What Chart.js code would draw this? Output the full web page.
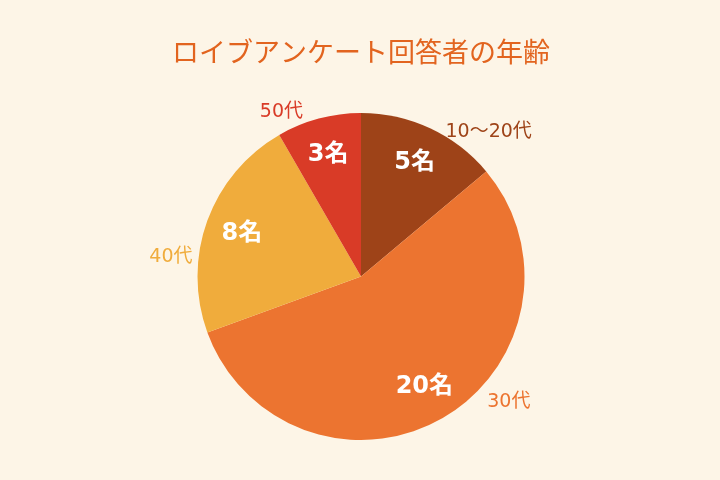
<!DOCTYPE html>
<html>
<head>
<meta charset="utf-8">
<script src="https://cdn.jsdelivr.net/npm/chart.js@4"></script>
<style>
  html, body { margin: 0; padding: 0; background: #fdf5e7; }
  #wrap { width: 720px; height: 480px; }
</style>
</head>
<body>
<div id="wrap"><canvas id="age-chart"></canvas></div>
<script>
// Survey data
const categories = ['10〜20代', '30代', '40代', '50代'];
const counts = [5, 20, 8, 3];
const sliceColors = ['#9e4318', '#ec7430', '#f0ac3c', '#d93b27'];
const chartTitle = 'ロイブアンケート回答者の年齢';

// where the category names sit outside the pie (share of the slice, radius factor)
const outerLabelPlace = [
    { share: 0.82, radius: 1.19 },
    { share: 0.40, radius: 1.18 },
    { share: 0.33, radius: 1.17 },
    { share: 0.15, radius: 1.13 }
];

const JP_FONT = "'Noto Sans CJK JP', 'Noto Sans', sans-serif";
const LABEL_FONT = "'DejaVu Sans', 'Noto Sans CJK JP', sans-serif";

const sliceLabels = {
    id: 'sliceLabels',
    afterDatasetsDraw(chart) {
        const ctx = chart.ctx;
        const arcs = chart.getDatasetMeta(0).data;
        ctx.save();
        ctx.textAlign = 'center';
        ctx.textBaseline = 'middle';
        arcs.forEach((arc, i) => {
            const { x, y, startAngle, endAngle, outerRadius } = arc.getProps(['x', 'y', 'startAngle', 'endAngle', 'outerRadius'], true);

            // count inside the slice
            const mid = (startAngle + endAngle) / 2;
            const rIn = outerRadius * 0.775;
            ctx.fillStyle = '#ffffff';
            ctx.font = `bold 24px ${LABEL_FONT}`;
            ctx.fillText(counts[i] + '名', x + rIn * Math.cos(mid), y + rIn * Math.sin(mid) + 1);

            // category name outside
            const p = outerLabelPlace[i];
            const a = startAngle + p.share * (endAngle - startAngle);
            const rOut = outerRadius * p.radius;
            ctx.fillStyle = sliceColors[i];
            ctx.font = `19px ${LABEL_FONT}`;
            ctx.fillText(categories[i], x + rOut * Math.cos(a), y + rOut * Math.sin(a) + 2);
        });
        ctx.restore();
    }
};

new Chart(document.getElementById('age-chart'), {
    type: 'pie',
    data: {
        labels: categories,
        datasets: [{
            data: counts,
            backgroundColor: sliceColors,
            borderWidth: 0
        }]
    },
    options: {
        responsive: true,
        maintainAspectRatio: false,
        animation: false,
        layout: { padding: { top: 0, bottom: 40, left: 2, right: 0 } },
        plugins: {
            legend: { display: false },
            tooltip: { enabled: false },
            title: {
                display: true,
                text: chartTitle,
                color: '#e2641f',
                font: { size: 27, weight: 'normal', family: JP_FONT, lineHeight: 1.2 },
                padding: { top: 36, bottom: 44.6 }
            }
        }
    },
    plugins: [sliceLabels]
});
</script>
</body>
</html>
